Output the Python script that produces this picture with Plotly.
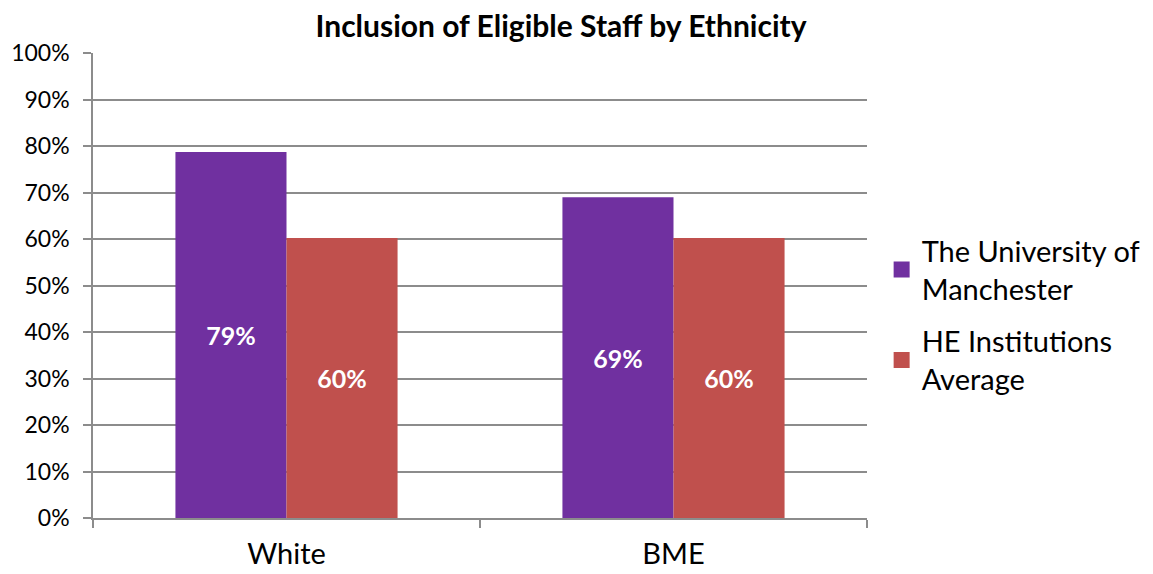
import plotly.graph_objects as go

categories = ["White", "BME"]
uom_values = [0.787, 0.69]
he_values = [0.602, 0.602]
series_names = ["The University of<br>Manchester", "HE Institutions<br>Average"]
series_colors = ["#7030A0", "#C0504D"]
y_ticks = [0, 0.1, 0.2, 0.3, 0.4, 0.5, 0.6, 0.7, 0.8, 0.9, 1.0]
y_tick_labels = ["0%", "10%", "20%", "30%", "40%", "50%", "60%", "70%", "80%", "90%", "100%"]

FONT = "Lato"
GRID = "#8c8c8c"

fig = go.Figure()
for vals, name, col in [(uom_values, series_names[0], series_colors[0]),
                        (he_values, series_names[1], series_colors[1])]:
    fig.add_trace(go.Bar(
        x=categories, y=vals, name=name, showlegend=False,
        marker=dict(color=col, line=dict(width=0)),
        texttemplate="%{y:.0%}", textposition="inside", insidetextanchor="middle",
        textfont=dict(family=FONT, size=25, color="white", weight="bold"),
        textangle=0,
    ))
for i, (name, col) in enumerate(zip(series_names, series_colors)):
    fig.add_trace(go.Scatter(
        x=[None], y=[None], mode="markers", name=name, legendgroup=f"g{i}",
        marker=dict(symbol="square", size=16, color=col),
    ))

fig.update_layout(
    width=1145, height=566,
    margin=dict(l=85, r=286, t=45, b=56, autoexpand=False),
    paper_bgcolor="white", plot_bgcolor="white",
    barmode="group", bargap=0.426, bargroupgap=0,
    title=dict(text="<b>Inclusion of Eligible Staff by Ethnicity</b>",
               x=0.483, xref="container", xanchor="center",
               y=0.967, yref="container", yanchor="middle",
               font=dict(family=FONT, size=30, color="black")),
    font=dict(family=FONT, color="black"),
    showlegend=True,
    legend=dict(x=0.763, xref="container", xanchor="left",
                y=0.437, yanchor="middle",
                font=dict(family=FONT, size=29, color="black"),
                tracegroupgap=12, itemsizing="trace"),
)
fig.update_xaxes(
    showline=True, linecolor=GRID, linewidth=1.5,
    ticks="outside", tickson="boundaries", ticklen=8, tickcolor=GRID, tickwidth=1.5,
    tickfont=dict(family=FONT, size=29, color="black"),
    ticklabelstandoff=9, automargin=False,
    showgrid=False,
)
fig.update_yaxes(
    range=[0, 1.0], tickvals=y_ticks, ticktext=y_tick_labels,
    showline=True, linecolor=GRID, linewidth=1.5,
    ticks="outside", ticklen=8, tickcolor=GRID, tickwidth=1.5,
    showgrid=True, gridcolor=GRID, gridwidth=1.5,
    tickfont=dict(family=FONT, size=23, color="black"),
    ticklabelstandoff=9, automargin=False,
    zeroline=False,
)

fig.write_html("out.html")
